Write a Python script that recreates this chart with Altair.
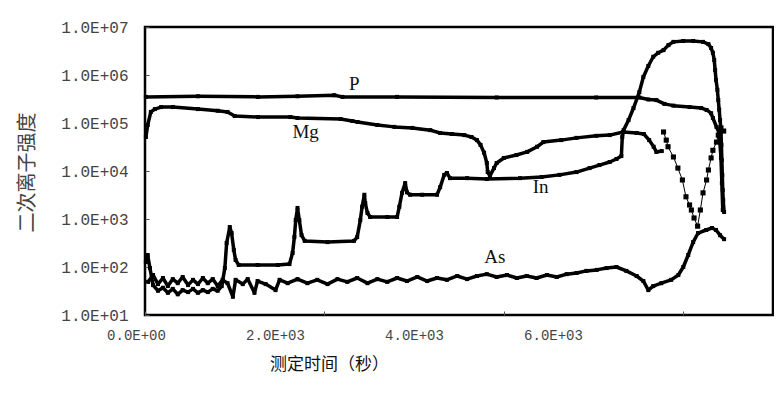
import altair as alt
import pandas as pd

# ---------------- data ----------------
# time in seconds, intensity in counts
P_t = [10, 590, 1260, 1700, 2110, 2200, 2810, 3920, 5030, 5510, 5610, 5700, 5790, 5890,
       6070, 6200, 6260, 6310, 6330, 6370, 6400, 6420, 6430, 6440]
P_v = [3.5e5, 3.6e5, 3.5e5, 3.6e5, 3.8e5, 3.5e5, 3.5e5, 3.4e5, 3.4e5, 3.4e5, 3.1e5, 3.0e5,
       2.5e5, 2.3e5, 2.15e5, 2.05e5, 1.87e5, 1.6e5, 1.27e5, 8.3e4, 6.2e4, 1.87e4, 5.6e3, 1.54e3]

Mg_t = [10, 30, 65, 110, 180, 310, 590, 810, 920, 1000, 1260, 1620, 1700, 2180, 2310, 2370,
        2590, 2780, 2980, 3180, 3290, 3420, 3560, 3640, 3700, 3740, 3780, 3810, 3820, 3845,
        3890, 3920, 4000, 4140, 4260, 4370, 4440, 4640, 4810, 5030, 5180, 5330, 5480, 5560,
        5620, 5670, 5700, 5760]
Mg_v = [5.1e4, 9.1e4, 1.7e5, 1.95e5, 2.15e5, 2.15e5, 1.95e5, 1.8e5, 1.7e5, 1.4e5, 1.33e5,
        1.33e5, 1.27e5, 1.21e5, 1.1e5, 1.05e5, 9.1e4, 8.3e4, 7.9e4, 7.1e4, 6.2e4, 5.9e4,
        5.6e4, 5.1e4, 4.4e4, 3.5e4, 2.4e4, 1.47e4, 9.5e3, 7.9e3, 1.15e4, 1.47e4, 1.87e4,
        2.15e4, 2.5e4, 3.2e4, 4.0e4, 4.4e4, 4.9e4, 5.4e4, 5.6e4, 6.5e4, 6.2e4, 5.9e4, 4.4e4,
        3.2e4, 2.5e4, 2.6e4]

# second Mg trace near the end (V-shaped, drawn with markers)
Mg2_t = [5780, 5810, 5830, 5890, 5940, 5990, 6030, 6070, 6090, 6120, 6160, 6190, 6220, 6260,
         6280, 6310, 6330, 6370, 6390, 6420, 6450]
Mg2_v = [6.5e4, 4.4e4, 3.2e4, 1.96e4, 1.15e4, 6.5e3, 2.9e3, 1.96e3, 1.54e3, 1.05e3, 710,
         1.54e3, 3.5e3, 6.5e3, 1.05e4, 1.87e4, 2.7e4, 4.0e4, 5.6e4, 7.9e4, 6.8e4]

In_t = [10, 30, 55, 90, 145, 200, 255, 310, 365, 420, 480, 535, 590, 645, 700, 755, 810, 855,
        890, 910, 945, 965, 990, 1010, 1045, 1255, 1480, 1610, 1645, 1665, 1680, 1700, 1720,
        1745, 1780, 2035, 2330, 2365, 2400, 2420, 2445, 2455, 2480, 2510, 2700, 2810, 2835,
        2865, 2900, 2920, 2955, 3090, 3255, 3290, 3335, 3365, 3400, 3590, 3810, 4180, 4420,
        4620, 4810, 4955, 5065, 5180, 5255, 5310, 5320, 5335, 5390, 5445, 5510, 5555, 5610,
        5665, 5720, 5780, 5835, 5890, 6000, 6110, 6220, 6280, 6310, 6330, 6345, 6355, 6365,
        6380, 6390, 6400, 6410, 6420, 6425, 6430, 6435, 6440, 6445, 6455]
In_v = [127, 178, 95, 42, 32, 37, 29, 35, 27, 33, 30, 35, 29, 33, 30, 35, 32, 40, 95, 316,
        680, 510, 226, 140, 110, 110, 110, 115, 196, 420, 950, 1700, 950, 460, 350, 330, 350,
        420, 950, 1800, 3200, 2150, 1330, 1100, 1100, 1100, 1800, 3500, 5600, 3600, 3200, 3200,
        3200, 4600, 8300, 9100, 7100, 7100, 6800, 7100, 7500, 8300, 9500, 11500, 13300, 15400,
        17800, 20500, 51000, 71000, 1.15e5, 2.05e5, 4.4e5, 9.1e5, 1.54e6, 2.4e6, 2.9e6, 3.3e6,
        4.2e6, 4.9e6, 5.1e6, 5.1e6, 4.9e6, 4.4e6, 3.65e6, 2.9e6, 2.05e6, 1.27e6, 7.9e5, 4.9e5,
        3.0e5, 1.9e5, 1.15e5, 7.1e4, 3.5e4, 1.7e4, 8300, 4000, 2500, 1400]

As_t = [35, 90, 145, 200, 255, 310, 365, 420, 480, 535, 590, 645, 700, 755, 810, 865, 920,
        980, 1010, 1090, 1145, 1220, 1255, 1345, 1455, 1500, 1590, 1700, 1810, 1920, 2035,
        2145, 2255, 2365, 2480, 2590, 2700, 2810, 2920, 3035, 3145, 3255, 3365, 3480, 3590,
        3700, 3810, 3920, 4035, 4145, 4255, 4365, 4480, 4590, 4700, 4810, 4920, 5035, 5145,
        5255, 5365, 5480, 5555, 5610, 5665, 5755, 5865, 5945, 6000, 6055, 6110, 6165, 6255,
        6320, 6365, 6410, 6455]
As_v = [49, 68, 44, 59, 40, 56, 46, 62, 42, 54, 44, 59, 46, 56, 40, 54, 46, 24, 54, 44, 56,
        29, 51, 44, 33, 54, 46, 56, 46, 54, 44, 56, 49, 59, 46, 56, 49, 59, 51, 62, 51, 59,
        54, 65, 56, 65, 71, 62, 68, 59, 65, 59, 68, 62, 71, 75, 83, 87, 95, 100, 83, 65, 51,
        33, 40, 46, 54, 68, 100, 178, 330, 510, 590, 650, 590, 460, 380]

x_tick_values = [0, 2000, 4000, 6000]
x_tick_labels = ["0.0E+00", "2.0E+03", "4.0E+03", "6.0E+03"]
y_tick_values = [1e1, 1e2, 1e3, 1e4, 1e5, 1e6, 1e7]
y_tick_labels = ["1.0E+01", "1.0E+02", "1.0E+03", "1.0E+04", "1.0E+05", "1.0E+06", "1.0E+07"]

label_names = ["P", "Mg", "In", "As"]
label_t = [2333, 1790, 4410, 3900]
label_v = [6.5e5, 6.5e4, 4.6e3, 162]

x_title = "测定时间（秒）"
y_title = "二次离子强度"

# ---------------- tables ----------------
curves = [
    ("P", "P", P_t, P_v),
    ("Mg", "Mg", Mg_t, Mg_v),
    ("Mg", "Mg-2", Mg2_t, Mg2_v),
    ("In", "In", In_t, In_v),
    ("As", "As", As_t, As_v),
]
rows = []
for series, seg, ts, vs in curves:
    for i, (t, v) in enumerate(zip(ts, vs)):
        rows.append({"series": series, "seg": seg, "i": i, "t": t, "v": v})
df = pd.DataFrame(rows)
lab_df = pd.DataFrame({"name": label_names, "t": label_t, "v": label_v})
axis_df = pd.DataFrame({"lx": x_tick_values, "ly": y_tick_values[:4]})

# ---------------- chart ----------------
W, H = 628, 288
x_scale = alt.Scale(domain=[0, 7000], nice=False, zero=False)
y_scale = alt.Scale(type="log", domain=[10, 1e7], nice=False)

x_tick_axis = alt.Axis(values=x_tick_values, labels=False, domain=False, grid=False,
                       ticks=True, tickSize=4, tickColor="#555", tickWidth=1, offset=-4,
                       title=None)
y_tick_axis = alt.Axis(values=y_tick_values, labels=False, domain=False, grid=False,
                       ticks=True, tickSize=4, tickColor="#555", tickWidth=1, offset=-4,
                       title=None)
x_enc = alt.X("t:Q", scale=x_scale, axis=x_tick_axis)
y_enc = alt.Y("v:Q", scale=y_scale, axis=y_tick_axis)

thick = alt.Chart(df).transform_filter(alt.datum.seg != "Mg-2").mark_line(
    color="black", strokeWidth=3.5, strokeJoin="round", strokeCap="round"
).encode(x=x_enc, y=y_enc, detail="seg:N", order="i:Q")

thin = alt.Chart(df).transform_filter(alt.datum.seg == "Mg-2").mark_line(
    color="black", strokeWidth=1
).encode(x=x_enc, y=y_enc, detail="seg:N", order="i:Q")

markers = alt.Chart(df).mark_square(color="black", size=16, opacity=1).encode(x=x_enc, y=y_enc)

dots = alt.Chart(df).transform_filter(alt.datum.seg == "Mg-2").mark_square(
    color="black", size=26, opacity=1
).encode(x=x_enc, y=y_enc)

texts = alt.Chart(lab_df).mark_text(
    font="Liberation Serif", fontSize=19, color="#111", align="center", baseline="middle"
).encode(x=x_enc, y=y_enc, text="name:N")

main = alt.layer(thick, thin, markers, dots, texts)

x_lab_expr = "[" + ",".join("'" + s + "'" for s in x_tick_labels) + "][round(datum.value/2000)]"
y_lab_expr = "[" + ",".join("'" + s + "'" for s in y_tick_labels) + "][round(log(datum.value)/LN10)-1]"

label_layer = alt.Chart(axis_df).mark_point(opacity=0).encode(
    x=alt.X("lx:Q", scale=alt.Scale(domain=[0, 9036], nice=False, zero=False),
            axis=alt.Axis(orient="bottom", values=x_tick_values, labelExpr=x_lab_expr,
                          ticks=False, tickSize=0, domain=False, grid=False,
                          position=-9, labelPadding=13, labelFont="Liberation Mono",
                          labelFontSize=14, labelColor="#444", labelFlush=False,
                          labelOverlap=False, title=x_title, titleFont="Noto Sans CJK SC",
                          titleFontSize=17, titleFontWeight="normal", titleColor="#111",
                          titleX=193, titleY=49, titleAlign="center", titleBaseline="middle")),
    y=alt.Y("ly:Q", scale=y_scale,
            axis=alt.Axis(orient="left", values=y_tick_values, labelExpr=y_lab_expr,
                          ticks=False, tickSize=0, domain=False, grid=False,
                          labelPadding=17, labelFont="Liberation Mono", labelFontSize=16,
                          labelColor="#444", labelFlush=False, labelOverlap=False,
                          title=y_title, titleFont="Noto Sans CJK SC", titleFontSize=20,
                          titleFontWeight="normal", titleColor="#444", titleX=-118,
                          titleY=145, titleAngle=270, titleAlign="center",
                          titleBaseline="middle")),
)

chart = alt.layer(main, label_layer).resolve_scale(x="independent").resolve_axis(
    y="independent"
).properties(
    width=W, height=H,
    autosize=alt.AutoSizeParams(type="none"),
    padding={"left": 137, "top": 19, "right": 1, "bottom": 65},
    background="white",
).configure_view(stroke="black", strokeWidth=2.5)

chart.save("out.html", embed_options={"renderer": "svg", "actions": False})
